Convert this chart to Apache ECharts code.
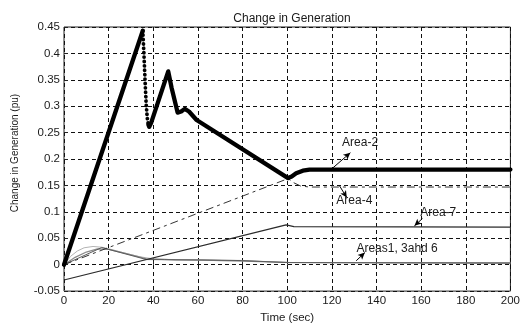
<!DOCTYPE html>
<html>
<head>
<meta charset="utf-8">
<script src="https://cdn.jsdelivr.net/npm/echarts@6/dist/echarts.min.js"></script>
<style>
  html, body { margin: 0; padding: 0; background: #fff; }
  #chart { width: 523px; height: 329px; }
</style>
</head>
<body>
<div id="chart"></div>
<script>
// Time axis (sec) and generation axis (pu) ranges
const timeRange = [0, 200, 20];
const genRange = [-0.05, 0.45, 0.05];

// Area-2: fast rise, sudden drop, oscillation, then settle at 0.18 pu
const area2Rise = [[0, 0], [35.3, 0.443]];
const area2Drop = [[35.3, 0.443], [35.8, 0.40], [36.3, 0.35], [36.8, 0.305], [37.3, 0.278], [37.8, 0.265]];
const area2Tail = [[37.8, 0.265], [38.2, 0.261], [39, 0.268], [46.7, 0.366], [48.2, 0.335], [50.9, 0.288],
  [52.5, 0.29], [54.1, 0.295], [56, 0.29], [59.4, 0.274], [100.4, 0.164], [102, 0.167], [104, 0.173],
  [107, 0.178], [110, 0.18], [200, 0.18]];

// Area-4: ramp up to 100 s then settle just under 0.15 pu
const area4 = [[0, 0], [100.4, 0.163], [103, 0.155], [106, 0.149], [110, 0.147], [200, 0.147]];

// Area-7: ramp from a negative start, settle near 0.07 pu
const area7 = [[0, -0.029], [99.5, 0.0755], [103, 0.072], [200, 0.071]];

// Areas 1, 3 and 6: small early bump, then decay towards zero
const area1 = [[0, 0], [3, 0.016], [6, 0.026], [9, 0.032], [13, 0.0345], [17, 0.033], [22, 0.028],
  [28, 0.021], [34, 0.015], [40, 0.011], [50, 0.0095], [60, 0.009], [80, 0.008], [100, 0.004], [200, 0.003]];
const area3 = [[0, 0], [16.9, 0.0325], [37, 0.0097], [45, 0.0095], [60, 0.009], [79.5, 0.0078],
  [80, 0.0055], [100, 0.004], [200, 0.003]];
const area6 = [[0, 0], [5, 0.014], [10, 0.024], [15, 0.03], [20, 0.029], [28, 0.021], [37, 0.011],
  [50, 0.009], [62, 0.0085], [80, 0.0068], [100, 0.0045], [200, 0.0035]];

const font = 'Liberation Sans, Arial, sans-serif';
const ink = '#1a1a1a';

// Callout arrows (tail -> head) and their captions, in data coordinates
const callouts = [
  { text: 'Area-2', textAt: [124.6, 0.2316], tail: [120.4, 0.183], head: [128.3, 0.212] },
  { text: 'Area-4', textAt: [122.0, 0.121], tail: [123.5, 0.149], head: [126.7, 0.127] },
  { text: 'Area-7', textAt: [159.6, 0.098], tail: [160.6, 0.0875], head: [157.0, 0.0735] },
  { text: 'Areas1, 3ahd 6', textAt: [131.0, 0.031], tail: [130.9, 0.0074], head: [134.8, 0.023] }
];

const chart = echarts.init(document.getElementById('chart'), null, { renderer: 'canvas' });

const thinLine = (name, data, color, width, type) => ({
  name, type: 'line', data, showSymbol: false, symbol: 'none', z: 3,
  lineStyle: { color, width, type: type || 'solid' }, animation: false
});

const gridLineStyle = { color: '#111', width: 1, type: [4, 3] };

chart.setOption({
  animation: false,
  backgroundColor: '#fff',
  title: {
    text: 'Change in Generation', left: 287, top: 8, textAlign: 'center',
    textStyle: { fontFamily: font, fontSize: 12, fontWeight: 'normal', color: ink }
  },
  grid: { left: 64, right: 12, top: 27, bottom: 30, show: true, borderColor: '#222', borderWidth: 1, backgroundColor: 'transparent' },
  xAxis: {
    type: 'value', min: timeRange[0], max: timeRange[1], interval: timeRange[2],
    name: 'Time (sec)', nameLocation: 'middle', nameGap: 17,
    nameTextStyle: { fontFamily: font, fontSize: 11.5, color: ink },
    axisLine: { show: false },
    axisTick: { show: true, inside: true, length: 4, lineStyle: { color: '#222' } },
    axisLabel: { fontFamily: font, fontSize: 11.5, color: ink, margin: 4 },
    splitLine: { show: true, lineStyle: gridLineStyle }
  },
  yAxis: {
    type: 'value', min: genRange[0], max: genRange[1], interval: genRange[2],
    name: 'Change in Generation (pu)', nameLocation: 'middle', nameGap: 44, nameRotate: 90,
    nameTextStyle: { fontFamily: font, fontSize: 10, color: ink, padding: [0, 0, 0, 12] },
    axisLine: { show: false },
    axisTick: { show: true, inside: true, length: 4, lineStyle: { color: '#222' } },
    axisLabel: { fontFamily: font, fontSize: 11.5, color: ink, margin: 4 },
    splitLine: { show: true, lineStyle: gridLineStyle }
  },
  series: [
    thinLine('Area-1', area1, '#b4b4b4', 1),
    thinLine('Area-6', area6, '#8c8c8c', 1.3),
    thinLine('Area-3', area3, '#5a5a5a', 1),
    thinLine('Area-4', area4, '#333', 1, [8, 4, 3, 4]),
    thinLine('Area-7', area7, '#2a2a2a', 1.2),
    {
      name: 'Area-2', type: 'line', data: area2Rise, showSymbol: false, symbol: 'none', z: 5,
      lineStyle: { color: '#000', width: 4.3, cap: 'round' }, animation: false
    },
    {
      name: 'Area-2', type: 'line', data: area2Drop, showSymbol: false, symbol: 'none', z: 5,
      lineStyle: { color: '#000', width: 3.8, type: [0.1, 4.3], cap: 'round' }, animation: false
    },
    {
      name: 'Area-2', type: 'line', data: area2Tail, showSymbol: false, symbol: 'none', z: 5,
      lineStyle: { color: '#000', width: 4.3, cap: 'round', join: 'round' }, animation: false,
      markLine: {
        silent: true, animation: false,
        symbol: ['none', 'arrow'], symbolSize: [5, 7],
        lineStyle: { color: '#000', width: 1, type: 'solid' },
        label: { show: false },
        data: callouts.map(c => [{ coord: c.tail }, { coord: c.head }])
      }
    }
  ]
});

// Captions for the callouts, placed through the axes' own scales
chart.setOption({
  graphic: callouts.map(c => {
    const p = chart.convertToPixel({ gridIndex: 0 }, c.textAt);
    return {
      type: 'text', x: p[0], y: p[1], z: 10, silent: true,
      style: { text: c.text, fontFamily: font, fontSize: 12, fill: ink, textVerticalAlign: 'middle' }
    };
  })
});
</script>
</body>
</html>
